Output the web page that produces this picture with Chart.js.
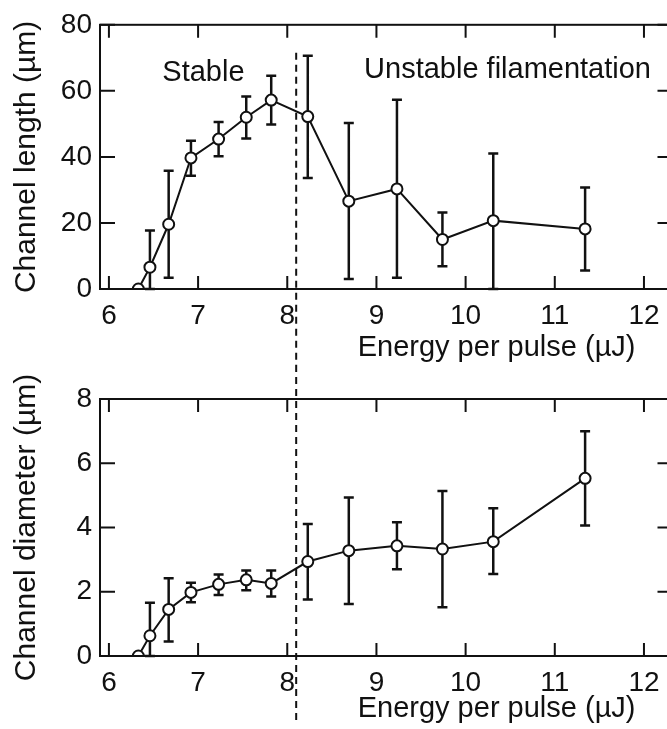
<!DOCTYPE html>
<html>
<head>
<meta charset="utf-8">
<script src="https://cdn.jsdelivr.net/npm/chart.js@4.4.1/dist/chart.umd.min.js"></script>
<style>
html, body { margin: 0; padding: 0; background: #fff; }
body { width: 667px; height: 729px; overflow: hidden; position: relative; }
canvas { position: absolute; left: 0; }
#cLength { top: 0; }
#cDiameter { top: 365px; }
</style>
</head>
<body>
<canvas id="cLength" width="680" height="365"></canvas>
<canvas id="cDiameter" width="680" height="364"></canvas>
<script>
// values
const energy = [6.33, 6.46, 6.67, 6.92, 7.23, 7.54, 7.82, 8.23, 8.69, 9.23, 9.74, 10.31, 11.34];

const lengthMean = [0, 6.6, 19.6, 39.7, 45.4, 52.0, 57.2, 52.2, 26.6, 30.3, 15.0, 20.7, 18.2];
const lengthHigh = [0, 17.7, 35.8, 44.9, 50.6, 58.3, 64.6, 70.6, 50.3, 57.3, 23.2, 41.0, 30.7];
const lengthLow = [0, 0, 3.4, 34.3, 40.2, 45.6, 49.8, 33.6, 3.0, 3.4, 6.9, 0, 5.6];

const diameterMean = [0, 0.63, 1.45, 1.98, 2.23, 2.37, 2.26, 2.94, 3.28, 3.43, 3.33, 3.56, 5.53];
const diameterHigh = [0, 1.66, 2.42, 2.28, 2.54, 2.66, 2.66, 4.11, 4.93, 4.16, 5.14, 4.6, 7.0];
const diameterLow = [0, 0, 0.45, 1.67, 1.9, 2.05, 1.85, 1.76, 1.62, 2.70, 1.52, 2.55, 4.06];

const energyTicks = [6, 7, 8, 9, 10, 11, 12];
const lengthTicks = [0, 20, 40, 60, 80];
const diameterTicks = [0, 2, 4, 6, 8];

const thresholdEnergy = 8.1;

const ink = "#111";
Chart.defaults.font.family = "'Liberation Sans', Arial, sans-serif";
Chart.defaults.color = ink;

function frameTicks(xTicks, yTicks) {
	return {
		id: "frameTicks",
		afterDraw(chart) {
			const { ctx, chartArea: a, scales } = chart;
			ctx.save();
			ctx.strokeStyle = ink;
			ctx.lineWidth = 2;
			ctx.strokeRect(a.left, a.top, a.right - a.left, a.bottom - a.top);
			ctx.beginPath();
			xTicks.forEach((v) => {
				const px = scales.x.getPixelForValue(v);
				ctx.moveTo(px, a.bottom);
				ctx.lineTo(px, a.bottom - 13);
				ctx.moveTo(px, a.top);
				ctx.lineTo(px, a.top + 13);
			});
			yTicks.forEach((v) => {
				const py = scales.y.getPixelForValue(v);
				ctx.moveTo(a.left, py);
				ctx.lineTo(a.left + 15, py);
				ctx.moveTo(a.right, py);
				ctx.lineTo(a.right - 15, py);
			});
			ctx.stroke();
			ctx.restore();
		},
	};
}

function errorBars(low, high) {
	return {
		id: "errorBars",
		beforeDatasetsDraw(chart) {
			const { ctx, scales } = chart;
			ctx.save();
			ctx.strokeStyle = ink;
			ctx.lineWidth = 2.5;
			ctx.beginPath();
			energy.forEach((e, i) => {
				if (high[i] === low[i]) return;
				const px = scales.x.getPixelForValue(e);
				const yHi = scales.y.getPixelForValue(high[i]);
				const yLo = scales.y.getPixelForValue(low[i]);
				ctx.moveTo(px, yHi);
				ctx.lineTo(px, yLo);
				ctx.moveTo(px - 5, yHi);
				ctx.lineTo(px + 5, yHi);
				ctx.moveTo(px - 5, yLo);
				ctx.lineTo(px + 5, yLo);
			});
			ctx.stroke();
			ctx.restore();
		},
	};
}

function threshold(fromValue, bottomGap) {
	return {
		id: "threshold",
		afterDatasetsDraw(chart) {
			const { ctx, scales } = chart;
			const px = scales.x.getPixelForValue(thresholdEnergy);
			const top = fromValue === null ? 0 : scales.y.getPixelForValue(fromValue);
			ctx.save();
			ctx.strokeStyle = ink;
			ctx.lineWidth = 2;
			ctx.setLineDash([7, 5]);
			ctx.beginPath();
			ctx.moveTo(px, top);
			ctx.lineTo(px, chart.height - bottomGap);
			ctx.stroke();
			ctx.restore();
		},
	};
}

function xTitle(text, below) {
	return {
		id: "xTitle",
		afterDraw(chart) {
			const { ctx, chartArea: a } = chart;
			ctx.save();
			ctx.fillStyle = ink;
			ctx.font = "29px 'Liberation Sans', Arial, sans-serif";
			ctx.textAlign = "right";
			ctx.textBaseline = "middle";
			ctx.fillText(text, a.right - 37, a.bottom + below);
			ctx.restore();
		},
	};
}

function regionLabels(items) {
	return {
		id: "regionLabels",
		afterDraw(chart) {
			const { ctx, scales } = chart;
			ctx.save();
			ctx.fillStyle = ink;
			ctx.font = "29px 'Liberation Sans', Arial, sans-serif";
			ctx.textAlign = "center";
			ctx.textBaseline = "middle";
			items.forEach((it) => {
				ctx.fillText(it.text, scales.x.getPixelForValue(it.x), scales.y.getPixelForValue(it.y));
			});
			ctx.restore();
		},
	};
}

function buildChart(id, opts) {
	const ctx = document.getElementById(id).getContext("2d");
	return new Chart(ctx, {
		type: "scatter",
		data: {
			datasets: [
				{
					data: energy.map((e, i) => ({ x: e, y: opts.values[i] })),
					showLine: true,
					borderColor: ink,
					borderWidth: 2,
					pointRadius: 5.5,
					pointBorderWidth: 2,
					pointBackgroundColor: "#fff",
					pointBorderColor: ink,
				},
			],
		},
		options: {
			responsive: false,
			animation: false,
			layout: { padding: { top: opts.padTop, right: 2, left: 0, bottom: 0 } },
			plugins: { legend: { display: false }, tooltip: { enabled: false } },
			scales: {
				x: {
					type: "linear",
					min: 5.9,
					max: 12.32,
					grid: { display: false, drawTicks: false },
					border: { display: false },
					ticks: { font: { size: 28 }, color: ink, padding: 10 },
					afterBuildTicks: (s) => {
						s.ticks = energyTicks.map((v) => ({ value: v }));
					},
					afterFit: (s) => {
						s.height = opts.xHeight;
					},
				},
				y: {
					type: "linear",
					min: opts.yTicks[0],
					max: opts.yTicks[opts.yTicks.length - 1],
					grid: { display: false, drawTicks: false },
					border: { display: false },
					ticks: { font: { size: 28 }, color: ink, padding: 8 },
					afterBuildTicks: (s) => {
						s.ticks = opts.yTicks.map((v) => ({ value: v }));
					},
					afterFit: (s) => {
						s.width = 100;
					},
					title: {
						display: true,
						text: opts.yTitle,
						color: ink,
						font: { size: 30 },
						padding: { top: 9, bottom: 0 },
					},
				},
			},
		},
		plugins: [
			errorBars(opts.low, opts.high),
			threshold(opts.dashFrom, opts.dashGap),
			frameTicks(energyTicks, opts.yTicks),
			xTitle("Energy per pulse (µJ)", opts.titleBelow),
			regionLabels(opts.labels),
		],
	});
}

buildChart("cLength", {
	values: lengthMean,
	low: lengthLow,
	high: lengthHigh,
	yTicks: lengthTicks,
	yTitle: "Channel length (µm)",
	padTop: 19,
	xHeight: 76,
	titleBelow: 59,
	dashFrom: 71.5,
	dashGap: 0,
	labels: [
		{ text: "Stable", x: 7.06, y: 65.5 },
		{ text: "Unstable filamentation", x: 10.47, y: 66.4 },
	],
});

buildChart("cDiameter", {
	values: diameterMean,
	low: diameterLow,
	high: diameterHigh,
	yTicks: diameterTicks,
	yTitle: "Channel diameter (µm)",
	padTop: 34,
	xHeight: 73,
	titleBelow: 53,
	dashFrom: null,
	dashGap: 6,
	labels: [],
});
</script>
</body>
</html>
